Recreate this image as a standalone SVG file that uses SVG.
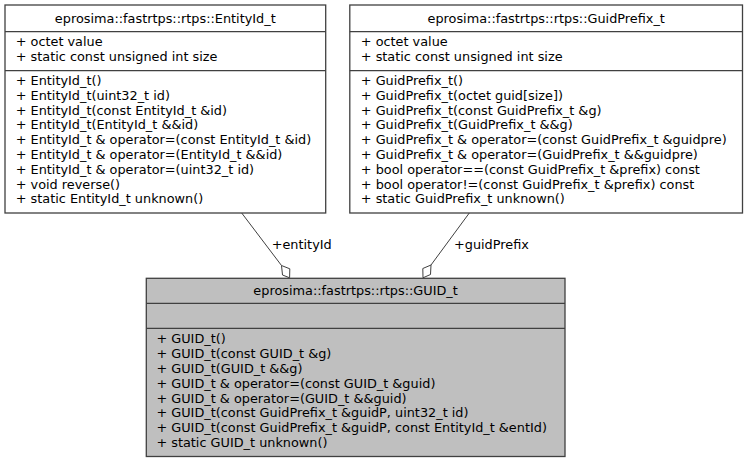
<svg xmlns="http://www.w3.org/2000/svg" width="749" height="463" viewBox="0 0 749 463">
<style>
text{font-family:"DejaVu Sans","Liberation Sans",sans-serif;font-size:12.85px;fill:#000}
.t{text-anchor:middle}
.box{fill:#fff;stroke:#404040;stroke-width:1.3}
.cur{fill:#bfbfbf}
.sep{stroke:#404040;stroke-width:1.3}
.edge{fill:none;stroke:#404040;stroke-width:1}
.dia{fill:#fff;stroke:#404040;stroke-width:1}
</style>
<rect width="749" height="463" fill="#fff"/>
<g id="connectors">
<path class="edge" d="M241.7,213 L281.5,265.5"/>
<polygon class="dia" points="281.5,265.5 289.8,268.8 289.6,277.8 282.5,275"/>
<text x="271.7" y="248.5">+entityId</text>
<path class="edge" d="M469.3,213 L431,265"/>
<polygon class="dia" points="431,265 422.8,268.5 423,277.8 430.5,274.5"/>
<text x="454" y="248.5">+guidPrefix</text>
</g>
<g id="EntityId_t">
<rect class="box" x="5" y="5" width="320.7" height="208"/>
<line class="sep" x1="5" y1="31.7" x2="325.7" y2="31.7"/>
<line class="sep" x1="5" y1="70.7" x2="325.7" y2="70.7"/>
<text class="t" x="165.3" y="22.5">eprosima::fastrtps::rtps::EntityId_t</text>
<text x="15.7" y="46">+ octet value</text>
<text x="15.7" y="60.8">+ static const unsigned int size</text>
<text x="15.7" y="85">+ EntityId_t()</text>
<text x="15.7" y="99.8">+ EntityId_t(uint32_t id)</text>
<text x="15.7" y="114.6">+ EntityId_t(const EntityId_t &amp;id)</text>
<text x="15.7" y="129.4">+ EntityId_t(EntityId_t &amp;&amp;id)</text>
<text x="15.7" y="144.2">+ EntityId_t &amp; operator=(const EntityId_t &amp;id)</text>
<text x="15.7" y="159">+ EntityId_t &amp; operator=(EntityId_t &amp;&amp;id)</text>
<text x="15.7" y="173.8">+ EntityId_t &amp; operator=(uint32_t id)</text>
<text x="15.7" y="188.6">+ void reverse()</text>
<text x="15.7" y="203.4">+ static EntityId_t unknown()</text>
</g>
<g id="GuidPrefix_t">
<rect class="box" x="349.8" y="5" width="392.7" height="208"/>
<line class="sep" x1="349.8" y1="31.7" x2="742.5" y2="31.7"/>
<line class="sep" x1="349.8" y1="70.7" x2="742.5" y2="70.7"/>
<text class="t" x="546.2" y="22.5">eprosima::fastrtps::rtps::GuidPrefix_t</text>
<text x="360.8" y="46">+ octet value</text>
<text x="360.8" y="60.8">+ static const unsigned int size</text>
<text x="360.8" y="85">+ GuidPrefix_t()</text>
<text x="360.8" y="99.8">+ GuidPrefix_t(octet guid[size])</text>
<text x="360.8" y="114.6">+ GuidPrefix_t(const GuidPrefix_t &amp;g)</text>
<text x="360.8" y="129.4">+ GuidPrefix_t(GuidPrefix_t &amp;&amp;g)</text>
<text x="360.8" y="144.2">+ GuidPrefix_t &amp; operator=(const GuidPrefix_t &amp;guidpre)</text>
<text x="360.8" y="159">+ GuidPrefix_t &amp; operator=(GuidPrefix_t &amp;&amp;guidpre)</text>
<text x="360.8" y="173.8">+ bool operator==(const GuidPrefix_t &amp;prefix) const</text>
<text x="360.8" y="188.6">+ bool operator!=(const GuidPrefix_t &amp;prefix) const</text>
<text x="360.8" y="203.4">+ static GuidPrefix_t unknown()</text>
</g>
<g id="GUID_t">
<rect class="box cur" x="146.3" y="278.3" width="418.7" height="178.2"/>
<line class="sep" x1="146.3" y1="303.3" x2="565" y2="303.3"/>
<line class="sep" x1="146.3" y1="328.3" x2="565" y2="328.3"/>
<text class="t" x="355.6" y="294.5">eprosima::fastrtps::rtps::GUID_t</text>
<text x="156.4" y="343.4">+ GUID_t()</text>
<text x="156.4" y="358.2">+ GUID_t(const GUID_t &amp;g)</text>
<text x="156.4" y="373">+ GUID_t(GUID_t &amp;&amp;g)</text>
<text x="156.4" y="387.8">+ GUID_t &amp; operator=(const GUID_t &amp;guid)</text>
<text x="156.4" y="402.6">+ GUID_t &amp; operator=(GUID_t &amp;&amp;guid)</text>
<text x="156.4" y="417.4">+ GUID_t(const GuidPrefix_t &amp;guidP, uint32_t id)</text>
<text x="156.4" y="432.2">+ GUID_t(const GuidPrefix_t &amp;guidP, const EntityId_t &amp;entId)</text>
<text x="156.4" y="447">+ static GUID_t unknown()</text>
</g>
</svg>
